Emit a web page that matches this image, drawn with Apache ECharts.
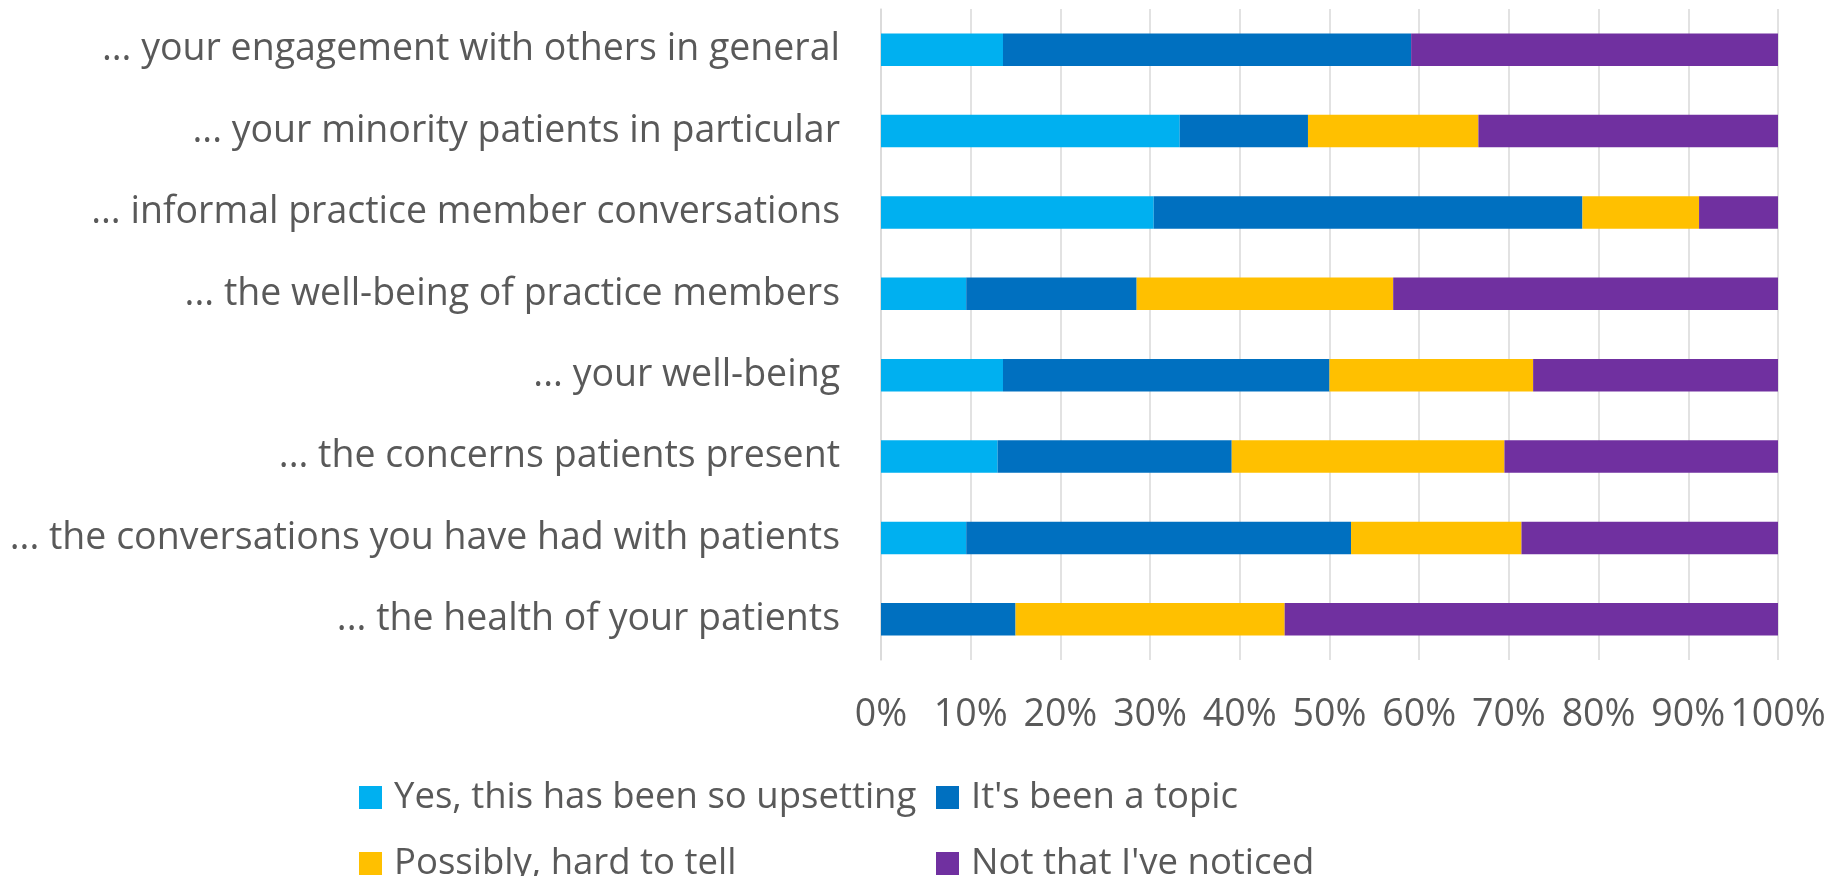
<!DOCTYPE html>
<html lang="en">
<head>
    <meta charset="UTF-8">
    <title>Stacked bar</title>
    <script src="https://cdn.jsdelivr.net/npm/echarts@6/dist/echarts.min.js"></script>
    <style>
        html, body { margin: 0; padding: 0; background: #fff; }
    </style>
</head>
<body>
    <div id="app" style="width:1837px;height:876px;"></div>
    <script>
        // categories, top to bottom
        var categories = [
            '... your engagement with others in general',
            '... your minority patients in particular',
            '... informal practice member conversations',
            '... the well-being of practice members',
            '... your well-being',
            '... the concerns patients present',
            '... the conversations you have had with patients',
            '... the health of your patients'
        ];
        // percentages per answer
        var yesUpsetting = [13.6, 33.3, 30.4, 9.5, 13.6, 13.0, 9.5, 0];
        var beenTopic = [45.5, 14.3, 47.8, 19.0, 36.4, 26.1, 42.9, 15.0];
        var possibly = [0, 19.0, 13.0, 28.6, 22.7, 30.4, 19.0, 30.0];
        var notNoticed = [40.9, 33.4, 8.8, 42.9, 27.3, 30.5, 28.6, 55.0];

        var seriesNames = ['Yes, this has been so upsetting', "It's been a topic", 'Possibly, hard to tell', "Not that I've noticed"];
        var colors = ['#00B0F0', '#0070C0', '#FFC000', '#7030A0'];

        var FONT = 'Open Sans';
        var FS = 37.5;

        var myChart = echarts.init(document.getElementById('app'));

        // one legend per item so the two columns line up like the original
        function legendItem(name, left, top) {
            return {
                data: [name],
                left: left,
                top: top,
                itemWidth: 23,
                itemHeight: 23,
                icon: 'rect',
                padding: 0,
                textStyle: {
                    color: '#595959',
                    fontFamily: FONT,
                    fontSize: 36.5,
                    lineHeight: 23,
                    padding: [0, 0, 0, 7]
                }
            };
        }

        function bar(name, data, i) {
            return {
                name: name,
                type: 'bar',
                stack: 'total',
                data: data,
                barWidth: '40%',
                itemStyle: { color: colors[i] }
            };
        }

        var option = {
            animation: false,
            backgroundColor: '#ffffff',
            grid: {
                left: 881,
                right: 59,
                top: 9,
                height: 651
            },
            legend: [
                legendItem(seriesNames[0], 359, 779),
                legendItem(seriesNames[1], 936, 779),
                legendItem(seriesNames[2], 359, 845),
                legendItem(seriesNames[3], 936, 845)
            ],
            xAxis: {
                type: 'value',
                min: 0,
                max: 100,
                interval: 10,
                axisLine: { show: false },
                axisTick: { show: false },
                axisLabel: {
                    formatter: '{value}%',
                    color: '#595959',
                    fontFamily: FONT,
                    fontSize: FS,
                    margin: 36
                },
                splitLine: {
                    show: true,
                    lineStyle: { color: '#D9D9D9', width: 1.5 }
                }
            },
            yAxis: {
                type: 'category',
                inverse: true,
                data: categories,
                axisLine: {
                    show: true,
                    lineStyle: { color: '#D9D9D9', width: 1.5 }
                },
                axisTick: { show: false },
                axisLabel: {
                    color: '#595959',
                    fontFamily: FONT,
                    fontSize: FS,
                    margin: 41
                }
            },
            series: [
                bar(seriesNames[0], yesUpsetting, 0),
                bar(seriesNames[1], beenTopic, 1),
                bar(seriesNames[2], possibly, 2),
                bar(seriesNames[3], notNoticed, 3)
            ]
        };
        myChart.setOption(option);
    </script>
</body>
</html>
